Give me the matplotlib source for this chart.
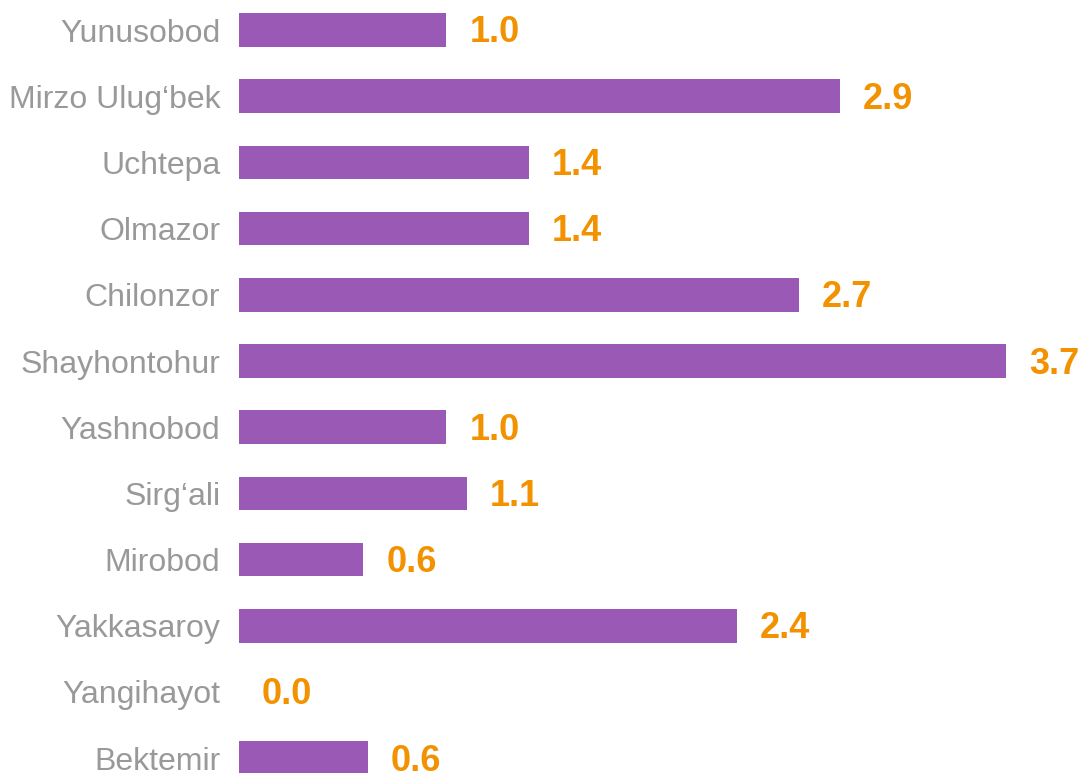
import matplotlib.pyplot as plt

plt.rcParams['font.family'] = ['Liberation Sans', 'DejaVu Sans']

districts = ['Yunusobod', 'Mirzo Ulug‘bek', 'Uchtepa', 'Olmazor', 'Chilonzor',
             'Shayhontohur', 'Yashnobod', 'Sirg‘ali', 'Mirobod', 'Yakkasaroy',
             'Yangihayot', 'Bektemir']
values = [1.0, 2.9, 1.4, 1.4, 2.7, 3.7, 1.0, 1.1, 0.6, 2.4, 0.0, 0.62]

bar_color = '#9b59b6'
label_color = '#f39200'
text_gray = '#999999'

W, H = 1082, 773
fig = plt.figure(figsize=(W / 100, H / 100), dpi=100)
# axes runs a bit past the bottom edge so the last bar is clipped like the original
row = 66.2
ax = fig.add_axes([239 / W, (H - (-3.1 + 12 * row)) / H, (W - 239) / W, 12 * row / H])

y = range(len(districts))
ax.barh(y, values, height=0.51, color=bar_color)
ax.set_ylim(11.5, -0.5)
ax.set_xlim(0, (W - 239) / 207.3)

for i, v in enumerate(values):
    ax.annotate(f'{v:.1f}', (v, i), xytext=(23, -3), textcoords='offset pixels',
                va='center', ha='left', fontsize=26, fontweight='bold',
                color=label_color, annotation_clip=False)

ax.set_yticks(list(y))
ax.set_yticklabels(districts, fontsize=23, color=text_gray)
ax.tick_params(axis='y', length=0, pad=13.5)
ax.set_xticks([])
for s in ax.spines.values():
    s.set_visible(False)

fig.savefig('out.png', dpi=100)
